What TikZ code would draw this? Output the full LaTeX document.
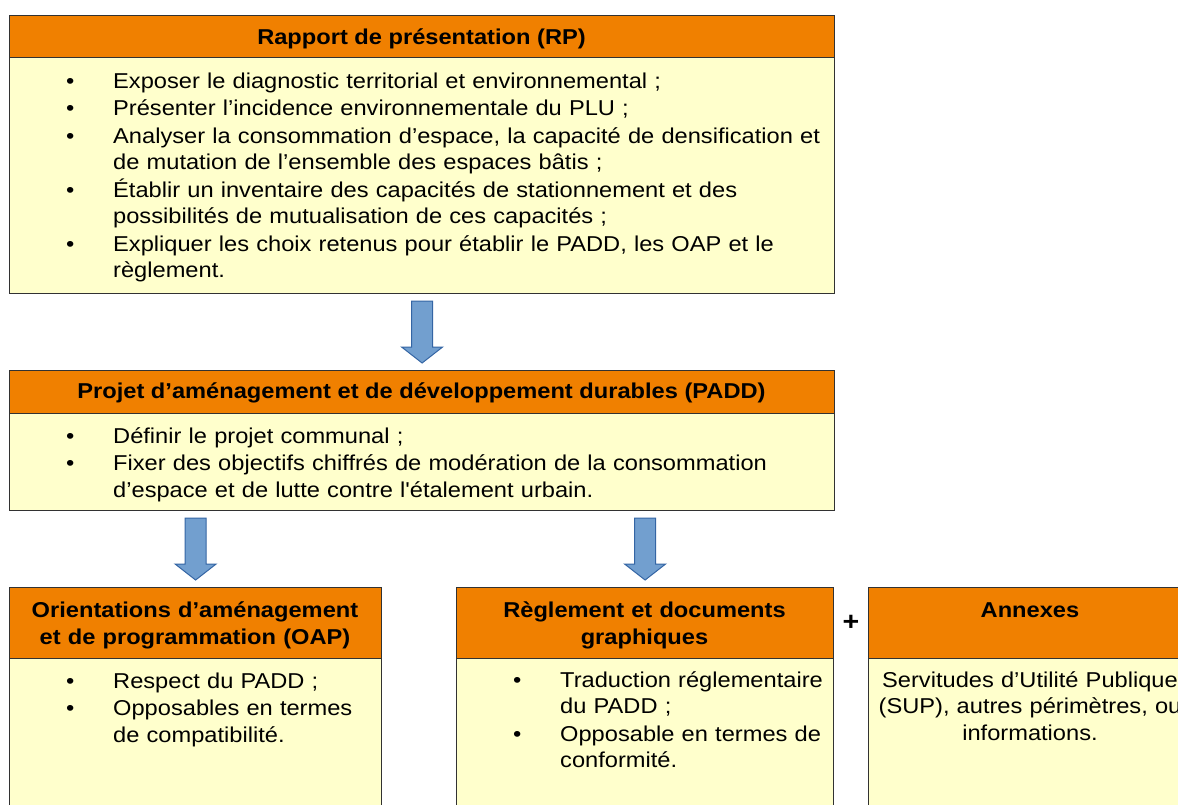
\documentclass[tikz,border=0pt]{standalone}
\usepackage{fontspec}
\setmainfont{Liberation Sans}[Ligatures=TeXOff, FakeStretch=1.1]
\usetikzlibrary{calc}
\definecolor{hdrorange}{RGB}{240,128,0}
\definecolor{bodyyellow}{RGB}{255,255,204}
\definecolor{edgecol}{RGB}{50,50,50}
\definecolor{arrowfill}{RGB}{114,159,207}
\definecolor{arrowedge}{RGB}{52,101,164}
\newcommand\bul[1]{\hangindent=47pt\hangafter=1\noindent\makebox[47pt][l]{\textbullet}#1\par}
\newcommand\blockarrow[2]{%
  \draw[barrow] let \p1=(#2.north), \p2=(#1.south) in
    (\x1-10.5pt,\y2-7pt) -- (\x1+10.5pt,\y2-7pt) -- (\x1+10.5pt,\y1+23pt)
    -- (\x1+20.5pt,\y1+23pt) -- (\x1,\y1+7pt) -- (\x1-20.5pt,\y1+23pt)
    -- (\x1-10.5pt,\y1+23pt) -- cycle;}
\tikzset{
  boxhdr/.style={draw=edgecol, line width=1.2pt, fill=hdrorange, inner sep=0pt, anchor=north west},
  boxbody/.style={draw=edgecol, line width=1.2pt, fill=bodyyellow, inner sep=0pt, anchor=north west},
  htxt/.style={font=\bfseries\fontsize{21.5}{26.7}\selectfont, inner sep=0pt, anchor=base, align=center},
  ltxt/.style={font=\fontsize{21.5}{26.5}\selectfont, inner sep=0pt, anchor=base west, align=left},
  ctxt/.style={font=\fontsize{21.5}{26.5}\selectfont, inner sep=0pt, anchor=base, align=center},
  barrow/.style={fill=arrowfill, draw=arrowedge, line width=1pt},
}
\begin{document}
\begin{tikzpicture}[x=1pt,y=1pt]
\useasboundingbox (0,0) rectangle (1178,-804);
\clip (0,0) rectangle (1178,-804);
\fill[white] (0,0) rectangle (1178,-804);
% RP
\node[boxhdr, minimum width=825, minimum height=42] (rph) at (9,-15) {};
\node[boxbody, minimum width=825, minimum height=236] (rpb) at (9,-57) {};
\node[htxt] (rpt) at (421.5,-44) {Rapport de présentation (RP)};
\node[ltxt, text width=765] (rpl) at (66,-88) {\setlength\parskip{1pt}%
\bul{Exposer le diagnostic territorial et environnemental ;}%
\bul{Présenter l’incidence environnementale du PLU ;}%
\bul{Analyser la consommation d’espace, la capacité de densification et\newline de mutation de l’ensemble des espaces bâtis ;}%
\bul{Établir un inventaire des capacités de stationnement et des\newline possibilités de mutualisation de ces capacités ;}%
\bul{Expliquer les choix retenus pour établir le PADD, les OAP et le\newline règlement.}};
% PADD
\node[boxhdr, minimum width=825, minimum height=43] (paddh) at (9,-370) {};
\node[boxbody, minimum width=825, minimum height=97] (paddb) at (9,-413) {};
\node[htxt] (paddt) at (421.5,-398) {Projet d’aménagement et de développement durables (PADD)};
\node[ltxt, text width=765] (paddl) at (66,-443) {\setlength\parskip{1pt}%
\bul{Définir le projet communal ;}%
\bul{Fixer des objectifs chiffrés de modération de la consommation\newline d’espace et de lutte contre l'étalement urbain.}};
% OAP
\node[boxhdr, minimum width=372, minimum height=71] (oaph) at (9,-587) {};
\node[boxbody, minimum width=372, minimum height=180] (oapb) at (9,-658) {};
\node[htxt, text width=372] (oapt) at (195,-617.3) {Orientations d’aménagement\\et de programmation (OAP)};
\node[ltxt, text width=310] (oapl) at (66,-688) {\setlength\parskip{1pt}%
\bul{Respect du PADD ;}%
\bul{Opposables en termes\newline de compatibilité.}};
% Reglement
\node[boxhdr, minimum width=377, minimum height=71] (regh) at (456,-587) {};
\node[boxbody, minimum width=377, minimum height=180] (regb) at (456,-658) {};
\node[htxt, text width=377] (regt) at (644.5,-617.3) {Règlement et documents\\graphiques};
\node[ltxt, text width=315] (regl) at (513,-687.3) {\setlength\parskip{1pt}%
\bul{Traduction réglementaire\newline du PADD ;}%
\bul{Opposable en termes de\newline conformité.}};
% Annexes
\node[boxhdr, minimum width=324, minimum height=71] (annh) at (868,-587) {};
\node[boxbody, minimum width=324, minimum height=180] (annb) at (868,-658) {};
\node[htxt] (annt) at (1030,-617.3) {Annexes};
\node[ctxt, text width=340] (annl) at (1030,-687.3) {Servitudes d’Utilité Publique\\(SUP), autres périmètres, ou\\informations.};
% plus
\node[font=\bfseries\fontsize{26}{26}\selectfont, inner sep=0pt] (plus) at (851,-623) {+};
% arrows
\blockarrow{rpb}{paddh}
\blockarrow{paddb}{oaph}
\blockarrow{paddb}{regh}
\end{tikzpicture}
\end{document}
